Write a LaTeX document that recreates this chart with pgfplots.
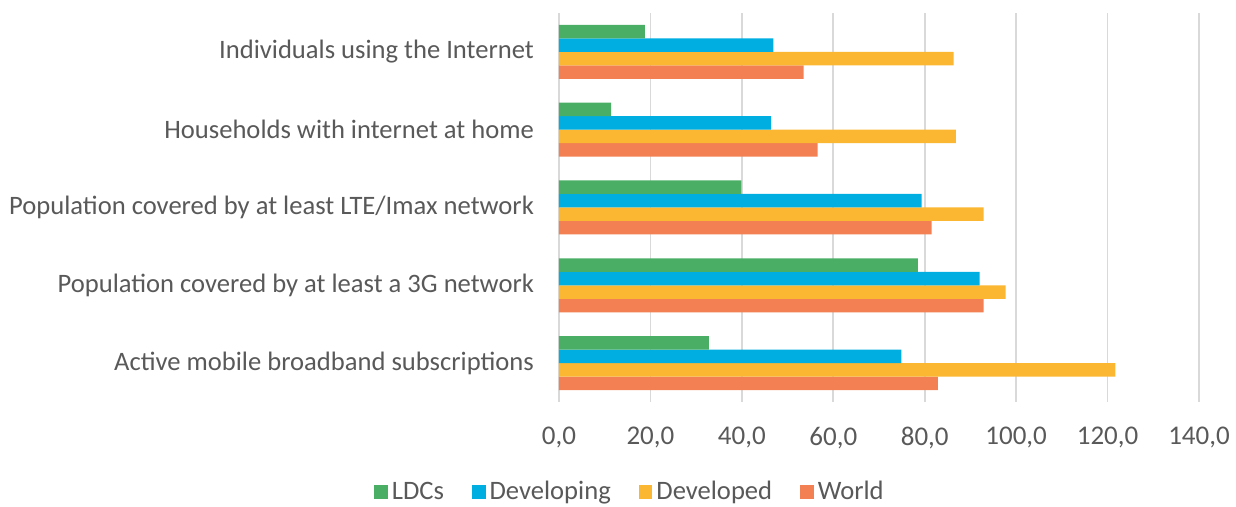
\documentclass[border=0pt]{standalone}
\usepackage{fontspec}
\setmainfont{Carlito}
\usepackage{pgfplots}
\usepackage{pgfplotstable}
\pgfplotsset{compat=1.18}
\definecolor{ldcgreen}{HTML}{4AAF64}
\definecolor{devblue}{HTML}{00AEE1}
\definecolor{dvdyellow}{HTML}{FBB731}
\definecolor{worldorange}{HTML}{F28052}
\definecolor{txtgray}{HTML}{595959}
\definecolor{gridgray}{HTML}{D9D9D9}

% y: 4 = top row, 0 = bottom row
\pgfplotstableread{
y LDC Dev Dvd World
4 18.8 46.9 86.3 53.5
3 11.4 46.4 86.8 56.6
2 39.9 79.3 92.9 81.5
1 78.5 92.0 97.7 92.9
0 32.8 74.9 121.7 82.9
}\data

\begin{document}
\begin{tikzpicture}
\useasboundingbox (-279.5pt,-52.5pt) rectangle (338.5pt,201pt);
\begin{axis}[
  scale only axis, width=320pt, height=194.5pt,
  xbar=0pt, bar width=6.75pt,
  xmin=0, xmax=140, ymin=-0.5, ymax=4.5,
  xtick={0,20,...,140},
  ytick={0,1,2,3,4},
  yticklabels={Active mobile broadband subscriptions,
    Population covered by at least a 3G network,
    Population covered by at least LTE/Imax network,
    Households with internet at home,
    Individuals using the Internet},
  xmajorgrids, grid style={draw=gridgray, line width=0.9pt},
  axis line style={draw=none},
  major tick length=0pt,
  /pgf/number format/assume math mode=true,
  tick label style={text=txtgray},
  yticklabel style={font=\fontsize{13.3}{16}\selectfont, xshift=-9pt},
  xticklabel style={font=\fontsize{13.5}{16}\selectfont,
    /pgf/number format/fixed, /pgf/number format/fixed zerofill,
    /pgf/number format/precision=1, /pgf/number format/use comma, yshift=-9pt},
  every axis plot/.append style={draw=none,
    legend image code/.code={\fill[##1] (0pt,-3.4pt) rectangle (6.8pt,3.4pt);}},
  reverse legend,
  legend columns=4,
  legend style={at={(axis description cs:0.1125,-0.2314)}, anchor=center,
    draw=none, fill=none, font=\fontsize{13.3}{16}\selectfont, text=txtgray,
    /tikz/every even column/.append style={column sep=12pt}},
]
\addplot[fill=worldorange] table[x=World, y=y] {\data};
\addplot[fill=dvdyellow] table[x=Dvd, y=y] {\data};
\addplot[fill=devblue] table[x=Dev, y=y] {\data};
\addplot[fill=ldcgreen] table[x=LDC, y=y] {\data};
\legend{World, Developed, Developing, LDCs}
\end{axis}
\end{tikzpicture}
\end{document}
